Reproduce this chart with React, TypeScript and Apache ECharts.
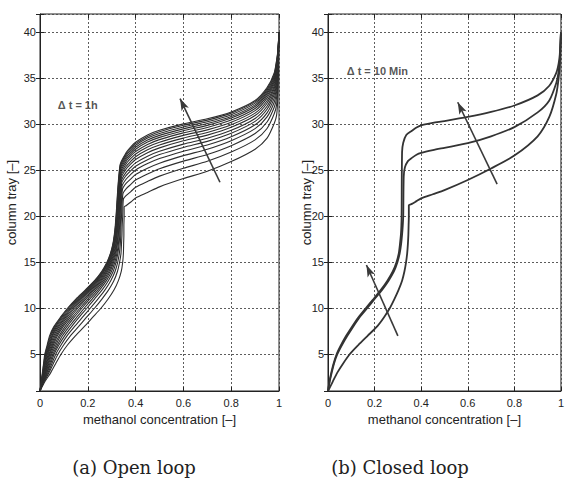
import { useEffect, useRef } from 'react';
import * as echarts from 'echarts';

// Column trays sampled in the lower (stripping) section of every profile
const LOWER_TRAYS = [1, 2, 3, 4, 5, 6, 7, 8, 9, 10, 11, 12, 13, 14, 15, 16, 17, 18, 19, 20];
// Concentration levels at which the upper (rectifying) section is sampled
const UPPER_X = [0.36, 0.38, 0.4, 0.45, 0.5, 0.6, 0.7, 0.8, 0.9, 0.95, 0.98, 0.99, 0.995, 1.0];

const X_TICK_STEP = 0.2;
const Y_LABEL_STEP = 5;

// (a) Open loop, Δt = 1h : concentration at trays 1..20
const OPEN_LOWER_X = [
  [0, 0.02, 0.045, 0.066, 0.088, 0.115, 0.148, 0.185, 0.22, 0.255, 0.285, 0.31, 0.328, 0.34, 0.346, 0.349, 0.35, 0.351, 0.351, 0.352],
  [0, 0.017, 0.038, 0.056, 0.075, 0.099, 0.127, 0.161, 0.194, 0.228, 0.259, 0.287, 0.309, 0.324, 0.333, 0.339, 0.341, 0.343, 0.344, 0.346],
  [0, 0.015, 0.034, 0.05, 0.066, 0.088, 0.113, 0.144, 0.177, 0.21, 0.242, 0.272, 0.296, 0.314, 0.325, 0.332, 0.336, 0.338, 0.339, 0.341],
  [0, 0.014, 0.03, 0.045, 0.059, 0.079, 0.103, 0.132, 0.163, 0.196, 0.228, 0.26, 0.286, 0.306, 0.318, 0.326, 0.331, 0.334, 0.336, 0.338],
  [0, 0.013, 0.028, 0.041, 0.054, 0.073, 0.094, 0.122, 0.153, 0.185, 0.218, 0.25, 0.278, 0.299, 0.313, 0.322, 0.328, 0.331, 0.333, 0.335],
  [0, 0.011, 0.025, 0.037, 0.049, 0.067, 0.086, 0.113, 0.143, 0.175, 0.208, 0.242, 0.271, 0.293, 0.308, 0.318, 0.324, 0.328, 0.33, 0.333],
  [0, 0.011, 0.023, 0.034, 0.045, 0.061, 0.08, 0.105, 0.135, 0.167, 0.2, 0.234, 0.265, 0.288, 0.304, 0.315, 0.322, 0.326, 0.328, 0.331],
  [0, 0.01, 0.021, 0.031, 0.041, 0.056, 0.073, 0.097, 0.127, 0.158, 0.192, 0.227, 0.259, 0.283, 0.3, 0.312, 0.319, 0.323, 0.326, 0.329],
  [0, 0.009, 0.019, 0.028, 0.038, 0.052, 0.068, 0.091, 0.12, 0.151, 0.185, 0.221, 0.254, 0.279, 0.297, 0.309, 0.317, 0.321, 0.324, 0.327],
  [0, 0.008, 0.017, 0.026, 0.034, 0.048, 0.063, 0.085, 0.113, 0.144, 0.178, 0.215, 0.249, 0.275, 0.294, 0.306, 0.314, 0.319, 0.323, 0.325],
  [0, 0.007, 0.016, 0.023, 0.031, 0.044, 0.058, 0.079, 0.107, 0.138, 0.172, 0.21, 0.244, 0.272, 0.291, 0.304, 0.312, 0.318, 0.321, 0.324],
  [0, 0.007, 0.014, 0.021, 0.028, 0.041, 0.053, 0.074, 0.102, 0.132, 0.167, 0.205, 0.24, 0.268, 0.288, 0.302, 0.311, 0.316, 0.319, 0.322],
  [0, 0.006, 0.013, 0.02, 0.026, 0.038, 0.05, 0.069, 0.097, 0.128, 0.162, 0.201, 0.237, 0.265, 0.286, 0.3, 0.309, 0.315, 0.318, 0.321],
  [0, 0.006, 0.012, 0.018, 0.024, 0.035, 0.046, 0.065, 0.092, 0.123, 0.157, 0.197, 0.233, 0.263, 0.284, 0.298, 0.307, 0.313, 0.317, 0.32],
  [0, 0.005, 0.011, 0.016, 0.022, 0.032, 0.043, 0.061, 0.088, 0.118, 0.153, 0.193, 0.23, 0.26, 0.282, 0.296, 0.306, 0.312, 0.316, 0.319],
  [0, 0.005, 0.01, 0.015, 0.02, 0.03, 0.04, 0.058, 0.085, 0.115, 0.15, 0.19, 0.228, 0.258, 0.28, 0.295, 0.305, 0.311, 0.315, 0.318],
];
// top of the steep section near the feed tray [x, tray]
const OPEN_BEND = [
  [[0.352, 21.0]], [[0.349, 21.87]], [[0.347, 22.47]], [[0.345, 22.93]], [[0.3435, 23.3]], [[0.342, 23.62]],
  [[0.341, 23.9]], [[0.34, 24.17]], [[0.339, 24.4]], [[0.339, 24.63]], [[0.338, 24.84]], [[0.337, 25.03]],
  [[0.3365, 25.19]], [[0.336, 25.35]], [[0.3355, 25.49]], [[0.335, 25.6]],
];
// tray position at each UPPER_X concentration
const OPEN_UPPER_Y = [
  [21.15, 21.55, 22.0, 22.6, 23.2, 24.1, 24.9, 25.95, 27.3, 28.5, 30.1, 31.0, 33.0, 40],
  [22.24, 22.69, 23.15, 23.79, 24.37, 25.23, 25.98, 26.98, 28.31, 29.55, 31.15, 32.14, 33.95, 40],
  [22.99, 23.47, 23.94, 24.6, 25.17, 26.0, 26.72, 27.68, 29.0, 30.26, 31.86, 32.92, 34.6, 40],
  [23.57, 24.07, 24.54, 25.23, 25.78, 26.6, 27.29, 28.22, 29.53, 30.81, 32.41, 33.52, 35.1, 40],
  [24.03, 24.55, 25.03, 25.73, 26.28, 27.08, 27.75, 28.65, 29.95, 31.25, 32.85, 34.0, 35.5, 40],
  [24.43, 24.97, 25.45, 26.16, 26.71, 27.49, 28.15, 29.03, 30.32, 31.64, 33.24, 34.42, 35.85, 40],
  [24.77, 25.33, 25.81, 26.54, 27.07, 27.85, 28.49, 29.35, 30.64, 31.97, 33.57, 34.78, 36.15, 40],
  [25.12, 25.69, 26.17, 26.91, 27.44, 28.21, 28.83, 29.68, 30.96, 32.3, 33.9, 35.14, 36.45, 40],
  [25.41, 25.99, 26.48, 27.23, 27.75, 28.5, 29.12, 29.95, 31.22, 32.57, 34.17, 35.44, 36.7, 40],
  [25.69, 26.29, 26.78, 27.54, 28.06, 28.8, 29.4, 30.22, 31.49, 32.85, 34.45, 35.74, 36.95, 40],
  [25.95, 26.56, 27.05, 27.82, 28.34, 29.07, 29.66, 30.46, 31.73, 33.09, 34.69, 36.01, 37.18, 40],
  [26.18, 26.8, 27.29, 28.07, 28.58, 29.31, 29.89, 30.68, 31.94, 33.31, 34.91, 36.25, 37.38, 40],
  [26.38, 27.01, 27.51, 28.29, 28.8, 29.51, 30.09, 30.86, 32.12, 33.51, 35.11, 36.46, 37.55, 40],
  [26.58, 27.22, 27.72, 28.51, 29.01, 29.72, 30.29, 31.05, 32.31, 33.7, 35.3, 36.67, 37.73, 40],
  [26.76, 27.4, 27.9, 28.69, 29.2, 29.9, 30.46, 31.22, 32.47, 33.86, 35.46, 36.85, 37.88, 40],
  [26.9, 27.55, 28.05, 28.85, 29.35, 30.05, 30.6, 31.35, 32.6, 34.0, 35.6, 37.0, 38.0, 40],
];

// (b) Closed loop, Δt = 10 Min
const CLOSED_LOWER_X = [
  [0, 0.02, 0.04, 0.065, 0.093, 0.13, 0.17, 0.21, 0.24, 0.265, 0.285, 0.303, 0.318, 0.328, 0.335, 0.34, 0.343, 0.345, 0.346, 0.347],
  [0, 0.007, 0.016, 0.026, 0.04, 0.06, 0.083, 0.108, 0.135, 0.168, 0.2, 0.232, 0.26, 0.283, 0.298, 0.308, 0.314, 0.318, 0.321, 0.323],
  [0, 0.006, 0.014, 0.024, 0.037, 0.056, 0.078, 0.103, 0.13, 0.162, 0.195, 0.227, 0.255, 0.278, 0.294, 0.304, 0.309, 0.313, 0.315, 0.316],
];
const CLOSED_BEND = [
  [[0.347, 21.2]],
  [[0.325, 24.3], [0.33, 25.3], [0.343, 26.0]],
  [[0.318, 27.0], [0.323, 28.0], [0.336, 28.85]],
];
const CLOSED_UPPER_Y = [
  [21.35, 21.65, 21.95, 22.4, 22.85, 23.95, 25.2, 26.6, 28.7, 30.8, 33.3, 35.0, 36.5, 40],
  [26.35, 26.7, 26.9, 27.2, 27.45, 27.95, 28.7, 29.7, 31.3, 32.6, 34.5, 35.7, 37.0, 40],
  [29.3, 29.65, 29.9, 30.15, 30.35, 30.8, 31.35, 32.05, 33.15, 34.2, 35.6, 36.6, 37.6, 40],
];

// arrows [from, to] in data coordinates
const OPEN_ARROWS = [[[0.753, 23.7], [0.586, 32.8]]];
const CLOSED_ARROWS = [
  [[0.726, 23.5], [0.557, 32.4]],
  [[0.3, 7.0], [0.165, 14.7]],
];
const OPEN_NOTE = 'Δ t = 1h';
const OPEN_NOTE_AT = [0.072, 32.1];
const CLOSED_NOTE = 'Δ t = 10 Min';
const CLOSED_NOTE_AT = [0.078, 35.75];

const CAPTIONS = ['(a) Open loop', '(b) Closed loop'];
const X_NAME = 'methanol concentration [–]';
const Y_NAME = 'column tray [–]';

function profile(lower: number[], bend: number[][], upper: number[]) {
  const pts: number[][] = lower.map((x, i) => [x, LOWER_TRAYS[i]]);
  bend.forEach((p) => pts.push(p));
  upper.forEach((y, j) => pts.push([UPPER_X[j], y]));
  return pts;
}

const SANS = '"Liberation Sans", Arial, Helvetica, sans-serif';
const INK = '#222';

function gridLine() {
  return { show: true, lineStyle: { color: '#4a4a4a', type: [2, 2], width: 1, opacity: 0.9 } };
}

function axesFor(gridIndex: number, nameGap: number) {
  const bottom = {
    type: 'value', gridIndex, min: 0, max: 1, interval: X_TICK_STEP,
    axisLine: { show: true, lineStyle: { color: INK, width: 1 } },
    axisTick: { show: true, inside: true, length: 4, lineStyle: { color: INK } },
    axisLabel: { color: INK, fontSize: 11, fontFamily: SANS, margin: 6 },
    splitLine: gridLine(),
    name: X_NAME, nameLocation: 'middle', nameGap: 19,
    nameTextStyle: { color: INK, fontSize: 13, fontFamily: SANS },
  };
  const top = {
    type: 'value', gridIndex, min: 0, max: 1, interval: X_TICK_STEP, position: 'top',
    axisLine: { show: false }, axisLabel: { show: false }, splitLine: { show: false },
    axisTick: { show: true, inside: true, length: 4, lineStyle: { color: INK } },
  };
  const left = {
    type: 'value', gridIndex, min: 1, max: 42, minInterval: Y_LABEL_STEP, maxInterval: Y_LABEL_STEP, splitNumber: 8,
    axisLine: { show: true, lineStyle: { color: INK, width: 1 } },
    axisTick: { show: true, inside: true, length: 4, lineStyle: { color: INK } },
    axisLabel: {
      color: INK, fontSize: 11, fontFamily: SANS, margin: 4,
      formatter: (v: number) => (v % Y_LABEL_STEP === 0 ? String(v) : ''),
    },
    splitLine: gridLine(),
    name: Y_NAME, nameLocation: 'middle', nameGap, nameMoveOverlap: false,
    nameTextStyle: { color: INK, fontSize: 13, fontFamily: SANS },
  };
  const right = {
    type: 'value', gridIndex, min: 1, max: 42, minInterval: Y_LABEL_STEP, maxInterval: Y_LABEL_STEP, splitNumber: 8,
    position: 'right',
    axisLine: { show: false }, axisLabel: { show: false }, splitLine: { show: false },
    axisTick: { show: true, inside: true, length: 4, lineStyle: { color: INK } },
  };
  return { x: [bottom, top], y: [left, right] };
}

function arrowMarkLine(arrows: number[][][]) {
  return {
    silent: true,
    symbol: ['none', 'arrow'],
    symbolSize: [6, 12],
    label: { show: false },
    lineStyle: { type: 'solid', color: '#3a3a3a', width: 1.6 },
    data: arrows.map(([a, b]) => [{ coord: a }, { coord: b }]),
  };
}

function noteSeries(xAxisIndex: number, yAxisIndex: number, text: string, at: number[]) {
  return {
    type: 'scatter', xAxisIndex, yAxisIndex, silent: true,
    symbolSize: 1, itemStyle: { color: 'rgba(0,0,0,0)' },
    data: [at],
    label: {
      show: true, position: 'right', distance: 0, formatter: text,
      color: '#2a2a2a', fontSize: 11, fontWeight: 'bold', fontFamily: SANS,
    },
    z: 5,
  };
}

export default function App() {
  const ref = useRef<HTMLDivElement>(null);
  useEffect(() => {
    if (!ref.current) return;
    const chart = echarts.init(ref.current, undefined, { renderer: 'svg' });
    const a = axesFor(0, 22);
    const b = axesFor(1, 15);

    const series: any[] = [];
    OPEN_LOWER_X.forEach((lower, k) => {
      series.push({
        type: 'line', xAxisIndex: 0, yAxisIndex: 0, showSymbol: false, silent: true,
        smooth: 0.25,
        lineStyle: { color: '#2e2e2e', width: 1.1 },
        data: profile(lower, OPEN_BEND[k], OPEN_UPPER_Y[k]),
        markLine: k === 0 ? arrowMarkLine(OPEN_ARROWS) : undefined,
        z: 3,
      });
    });
    CLOSED_LOWER_X.forEach((lower, k) => {
      series.push({
        type: 'line', xAxisIndex: 2, yAxisIndex: 2, showSymbol: false, silent: true,
        smooth: 0.25,
        lineStyle: { color: '#333', width: 1.8 },
        data: profile(lower, CLOSED_BEND[k], CLOSED_UPPER_Y[k]),
        markLine: k === 0 ? arrowMarkLine(CLOSED_ARROWS) : undefined,
        z: 3,
      });
    });
    series.push(noteSeries(0, 0, OPEN_NOTE, OPEN_NOTE_AT));
    series.push(noteSeries(2, 2, CLOSED_NOTE, CLOSED_NOTE_AT));

    chart.setOption({
      animation: false,
      backgroundColor: '#fff',
      grid: [
        { left: 40, top: 14, width: 239, height: 377, show: true, borderColor: INK, borderWidth: 1, backgroundColor: 'rgba(0,0,0,0)' },
        { left: 328, top: 14, width: 237, height: 377, show: true, borderColor: INK, borderWidth: 1, backgroundColor: 'rgba(0,0,0,0)' },
      ],
      xAxis: [...a.x, ...b.x],
      yAxis: [...a.y, ...b.y],
      series,
      graphic: [
        {
          type: 'text', x: 134, y: 467, silent: true,
          style: { text: CAPTIONS[0], font: '18px "DejaVu Serif", serif', fill: '#222', align: 'center', verticalAlign: 'middle' },
        },
        {
          type: 'text', x: 400, y: 467, silent: true,
          style: { text: CAPTIONS[1], font: '18px "DejaVu Serif", serif', fill: '#222', align: 'center', verticalAlign: 'middle' },
        },
      ],
    });
    return () => chart.dispose();
  }, []);
  return (
    <div
      ref={ref}
      style={{ position: 'fixed', left: 0, top: 0, width: 567, height: 483, background: '#fff' }}
    />
  );
}
